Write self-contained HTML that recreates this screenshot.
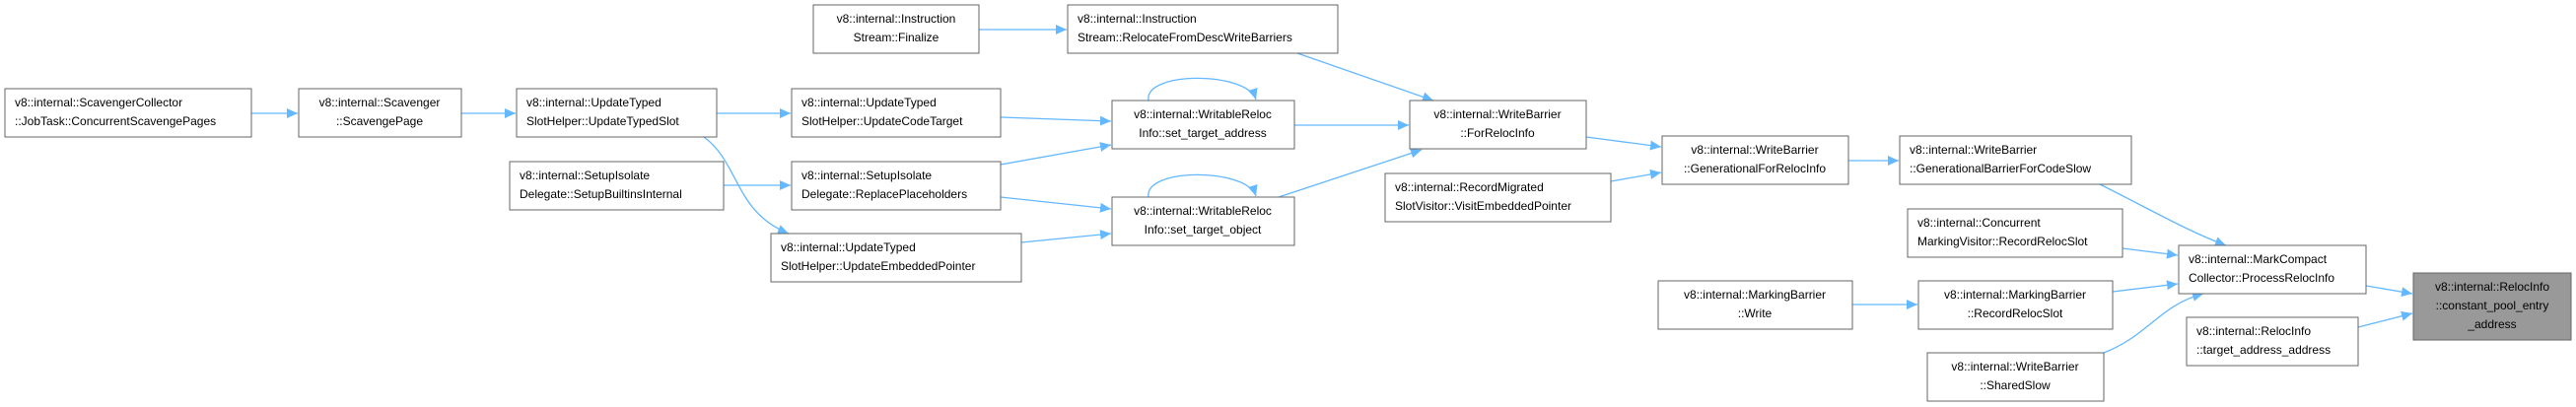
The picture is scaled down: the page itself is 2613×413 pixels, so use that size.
<!DOCTYPE html>
<html><head><meta charset="utf-8"><style>
html,body{margin:0;padding:0;background:#fff;}
svg{display:block}
text{font-family:"Liberation Sans",sans-serif;font-size:12px;fill:#000}
.n{fill:#fff;stroke:#666;stroke-width:1}
.e{fill:none;stroke:#63b8ff;stroke-width:1.3}
</style></head><body>
<svg width="2613" height="413" viewBox="0 0 2613 413" xmlns="http://www.w3.org/2000/svg">
<defs><marker id="a" markerUnits="userSpaceOnUse" markerWidth="12" markerHeight="10" refX="11" refY="5" orient="auto"><path d="M0,0 L11,5 L0,10 z" fill="#63b8ff"/></marker></defs>

<!-- edges -->
<g class="e" marker-end="url(#a)">
<path d="M255,115 L302,115"/>
<path d="M468,115 L523,115"/>
<path d="M727,115 L802,115"/>
<path d="M714,139 C750,165 745,215 800,237"/>
<path d="M734,188 L802,188"/>
<path d="M993,30 L1082,30"/>
<path d="M1015,119 L1127,123"/>
<path d="M1015,167 L1127,147"/>
<path d="M1015,200 L1127,212"/>
<path d="M1036,246 L1127,237"/>
<path d="M1165,102 C1160,72 1265,72 1274,101"/>
<path d="M1165,200 C1160,170 1265,170 1274,199"/>
<path d="M1313,127 L1429,127"/>
<path d="M1297,200 L1442,152"/>
<path d="M1316,54 L1454,102"/>
<path d="M1609,139 L1685,149"/>
<path d="M1634,184 L1685,175"/>
<path d="M1875,163 L1926,163"/>
<path d="M2130,187 C2180,212 2220,235 2258,249"/>
<path d="M2153,252 L2209,259"/>
<path d="M1879,309 L1945,309"/>
<path d="M2143,296 L2209,288"/>
<path d="M2134,358 C2180,340 2190,310 2235,298"/>
<path d="M2400,290 L2447,298"/>
<path d="M2392,332 L2447,318"/>
</g>

<!-- nodes -->
<rect class="n" x="5" y="90" width="250" height="49"/>
<text x="15" y="108">v8::internal::ScavengerCollector</text><text x="15" y="127">::JobTask::ConcurrentScavengePages</text>

<rect class="n" x="303" y="90" width="165" height="49"/>
<text x="385" y="108" text-anchor="middle">v8::internal::Scavenger</text><text x="385" y="127" text-anchor="middle">::ScavengePage</text>

<rect class="n" x="524" y="90" width="203" height="49"/>
<text x="534" y="108">v8::internal::UpdateTyped</text><text x="534" y="127">SlotHelper::UpdateTypedSlot</text>

<rect class="n" x="517" y="164" width="217" height="49"/>
<text x="527" y="182">v8::internal::SetupIsolate</text><text x="527" y="201">Delegate::SetupBuiltinsInternal</text>

<rect class="n" x="825" y="5" width="168" height="49"/>
<text x="909" y="23" text-anchor="middle">v8::internal::Instruction</text><text x="909" y="42" text-anchor="middle">Stream::Finalize</text>

<rect class="n" x="803" y="90" width="212" height="49"/>
<text x="813" y="108">v8::internal::UpdateTyped</text><text x="813" y="127">SlotHelper::UpdateCodeTarget</text>

<rect class="n" x="803" y="164" width="212" height="49"/>
<text x="813" y="182">v8::internal::SetupIsolate</text><text x="813" y="201">Delegate::ReplacePlaceholders</text>

<rect class="n" x="782" y="237" width="254" height="49"/>
<text x="792" y="255">v8::internal::UpdateTyped</text><text x="792" y="274">SlotHelper::UpdateEmbeddedPointer</text>

<rect class="n" x="1083" y="5" width="274" height="49"/>
<text x="1093" y="23">v8::internal::Instruction</text><text x="1093" y="42">Stream::RelocateFromDescWriteBarriers</text>

<rect class="n" x="1128" y="102" width="185" height="49"/>
<text x="1220" y="120" text-anchor="middle">v8::internal::WritableReloc</text><text x="1220" y="139" text-anchor="middle">Info::set_target_address</text>

<rect class="n" x="1128" y="200" width="185" height="49"/>
<text x="1220" y="218" text-anchor="middle">v8::internal::WritableReloc</text><text x="1220" y="237" text-anchor="middle">Info::set_target_object</text>

<rect class="n" x="1430" y="102" width="179" height="49"/>
<text x="1519" y="120" text-anchor="middle">v8::internal::WriteBarrier</text><text x="1519" y="139" text-anchor="middle">::ForRelocInfo</text>

<rect class="n" x="1405" y="176" width="229" height="49"/>
<text x="1415" y="194">v8::internal::RecordMigrated</text><text x="1415" y="213">SlotVisitor::VisitEmbeddedPointer</text>

<rect class="n" x="1686" y="138" width="189" height="49"/>
<text x="1780" y="156" text-anchor="middle">v8::internal::WriteBarrier</text><text x="1780" y="175" text-anchor="middle">::GenerationalForRelocInfo</text>

<rect class="n" x="1682" y="285" width="197" height="49"/>
<text x="1780" y="303" text-anchor="middle">v8::internal::MarkingBarrier</text><text x="1780" y="322" text-anchor="middle">::Write</text>

<rect class="n" x="1927" y="138" width="235" height="49"/>
<text x="1937" y="156">v8::internal::WriteBarrier</text><text x="1937" y="175">::GenerationalBarrierForCodeSlow</text>

<rect class="n" x="1935" y="212" width="218" height="49"/>
<text x="1945" y="230">v8::internal::Concurrent</text><text x="1945" y="249">MarkingVisitor::RecordRelocSlot</text>

<rect class="n" x="1946" y="285" width="197" height="49"/>
<text x="2044" y="303" text-anchor="middle">v8::internal::MarkingBarrier</text><text x="2044" y="322" text-anchor="middle">::RecordRelocSlot</text>

<rect class="n" x="1955" y="358" width="179" height="49"/>
<text x="2044" y="376" text-anchor="middle">v8::internal::WriteBarrier</text><text x="2044" y="395" text-anchor="middle">::SharedSlow</text>

<rect class="n" x="2210" y="249" width="190" height="49"/>
<text x="2220" y="267">v8::internal::MarkCompact</text><text x="2220" y="286">Collector::ProcessRelocInfo</text>

<rect class="n" x="2218" y="322" width="174" height="49"/>
<text x="2228" y="340">v8::internal::RelocInfo</text><text x="2228" y="359">::target_address_address</text>

<rect x="2448" y="277" width="160" height="68" fill="#999" stroke="#666"/>
<text x="2528" y="295" text-anchor="middle">v8::internal::RelocInfo</text><text x="2528" y="314" text-anchor="middle">::constant_pool_entry</text><text x="2528" y="333" text-anchor="middle">_address</text>
</svg>
</body></html>
